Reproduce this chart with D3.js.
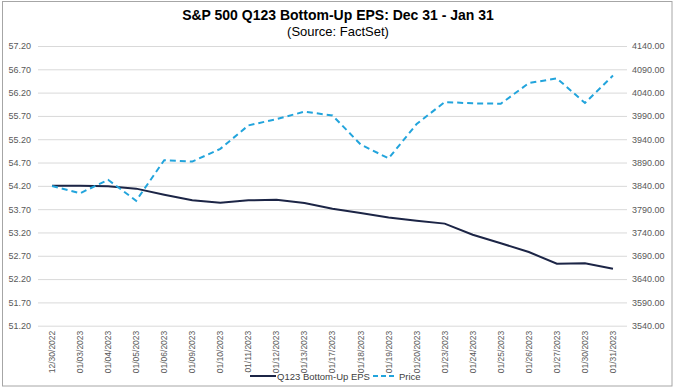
<!DOCTYPE html>
<html>
<head>
<meta charset="utf-8">
<script src="https://cdn.jsdelivr.net/npm/d3@7"></script>
<style>
  body { margin: 0; background: #fff; }
  svg text { font-family: Arial, "Liberation Sans", sans-serif; }
</style>
</head>
<body>
<div id="chart"></div>
<script>
// chart data
var dates = ["12/30/2022", "01/03/2023", "01/04/2023", "01/05/2023", "01/06/2023",
  "01/09/2023", "01/10/2023", "01/11/2023", "01/12/2023", "01/13/2023", "01/17/2023",
  "01/18/2023", "01/19/2023", "01/20/2023", "01/23/2023", "01/24/2023", "01/25/2023",
  "01/26/2023", "01/27/2023", "01/30/2023", "01/31/2023"];
var eps = [54.20, 54.20, 54.19, 54.14, 54.01, 53.89, 53.84, 53.89, 53.90, 53.83, 53.71,
  53.62, 53.52, 53.45, 53.39, 53.15, 52.97, 52.78, 52.53, 52.54, 52.42];
var price = [3839.5, 3824.1, 3853.0, 3808.1, 3895.1, 3892.1, 3919.3, 3969.6, 3983.2,
  3999.1, 3991.0, 3928.9, 3898.9, 3972.6, 4019.8, 4017.0, 4016.2, 4060.4, 4070.6,
  4017.8, 4076.6];
var leftTicks = [51.2, 51.7, 52.2, 52.7, 53.2, 53.7, 54.2, 54.7, 55.2, 55.7, 56.2, 56.7, 57.2];
var rightTicks = [3540, 3590, 3640, 3690, 3740, 3790, 3840, 3890, 3940, 3990, 4040, 4090, 4140];

var W = 676, H = 390;
var plot = { left: 38, right: 627, top: 46, bottom: 325.7 };

var svg = d3.select("#chart").append("svg")
  .attr("width", W)
  .attr("height", H);

// outer frame
svg.append("rect")
  .attr("x", 2.5).attr("y", 1.5)
  .attr("width", 669.5).attr("height", 384.5)
  .attr("fill", "none")
  .attr("stroke", "#a6a6a6");

// scales
var x = d3.scaleBand().domain(dates).range([plot.left, plot.right]);
var yL = d3.scaleLinear().domain([51.2, 57.2]).range([plot.bottom, plot.top]);
var yR = d3.scaleLinear().domain([3540, 4140]).range([plot.bottom, plot.top]);
var cx = function (d) { return x(d) + x.bandwidth() / 2; };

// gridlines + left axis
var leftAxis = svg.append("g")
  .attr("transform", "translate(" + plot.left + ",0)")
  .call(d3.axisLeft(yL).tickValues(leftTicks).tickFormat(d3.format(".2f"))
    .tickSize(-(plot.right - plot.left)).tickPadding(7));
leftAxis.select(".domain").remove();
leftAxis.selectAll("line").attr("stroke", "#d9d9d9").attr("stroke-width", 1);
leftAxis.selectAll("text").attr("fill", "#595959").attr("font-size", 9);

// right axis
var rightAxis = svg.append("g")
  .attr("transform", "translate(" + plot.right + ",0)")
  .call(d3.axisRight(yR).tickValues(rightTicks).tickFormat(d3.format(".2f"))
    .tickSize(0).tickPadding(5));
rightAxis.select(".domain").remove();
rightAxis.selectAll("text").attr("fill", "#595959").attr("font-size", 9);

// x axis labels (rotated)
var xAxis = svg.append("g")
  .attr("transform", "translate(0," + plot.bottom + ")")
  .call(d3.axisBottom(x).tickSize(0).tickPadding(0));
xAxis.select(".domain").remove();
xAxis.selectAll("text")
  .attr("fill", "#595959")
  .attr("font-size", 8.5)
  .attr("text-anchor", "end")
  .attr("dy", "0.35em")
  .attr("transform", "rotate(-90) translate(-5,0)")
  .attr("x", 0).attr("y", 0);

// lines
var epsLine = d3.line()
  .x(function (d, i) { return cx(dates[i]); })
  .y(function (d) { return yL(d); });
var priceLine = d3.line()
  .x(function (d, i) { return cx(dates[i]); })
  .y(function (d) { return yR(d); });

svg.append("path")
  .datum(eps)
  .attr("d", epsLine)
  .attr("fill", "none")
  .attr("stroke", "#1c2546")
  .attr("stroke-width", 2);

svg.append("path")
  .datum(price)
  .attr("d", priceLine)
  .attr("fill", "none")
  .attr("stroke", "#22a4dc")
  .attr("stroke-width", 2)
  .attr("stroke-dasharray", "6,4");

// titles
svg.append("text")
  .attr("x", 338).attr("y", 20)
  .attr("text-anchor", "middle")
  .attr("font-size", 14).attr("font-weight", "bold")
  .attr("fill", "#000")
  .text("S&P 500 Q123 Bottom-Up EPS: Dec 31 - Jan 31");
svg.append("text")
  .attr("x", 338).attr("y", 36)
  .attr("text-anchor", "middle")
  .attr("font-size", 13)
  .attr("fill", "#000")
  .text("(Source: FactSet)");

// legend
var leg = svg.append("g").attr("transform", "translate(0,376)");
leg.append("line")
  .attr("x1", 250).attr("x2", 276).attr("y1", 0).attr("y2", 0)
  .attr("stroke", "#1c2546").attr("stroke-width", 2);
leg.append("text")
  .attr("x", 277).attr("y", 3.5)
  .attr("font-size", 9.5).attr("fill", "#404040")
  .text("Q123 Bottom-Up EPS");
leg.append("line")
  .attr("x1", 373).attr("x2", 395).attr("y1", 0).attr("y2", 0)
  .attr("stroke", "#22a4dc").attr("stroke-width", 2)
  .attr("stroke-dasharray", "5,3");
leg.append("text")
  .attr("x", 399).attr("y", 3.5)
  .attr("font-size", 9.5).attr("fill", "#404040")
  .text("Price");
</script>
</body>
</html>
